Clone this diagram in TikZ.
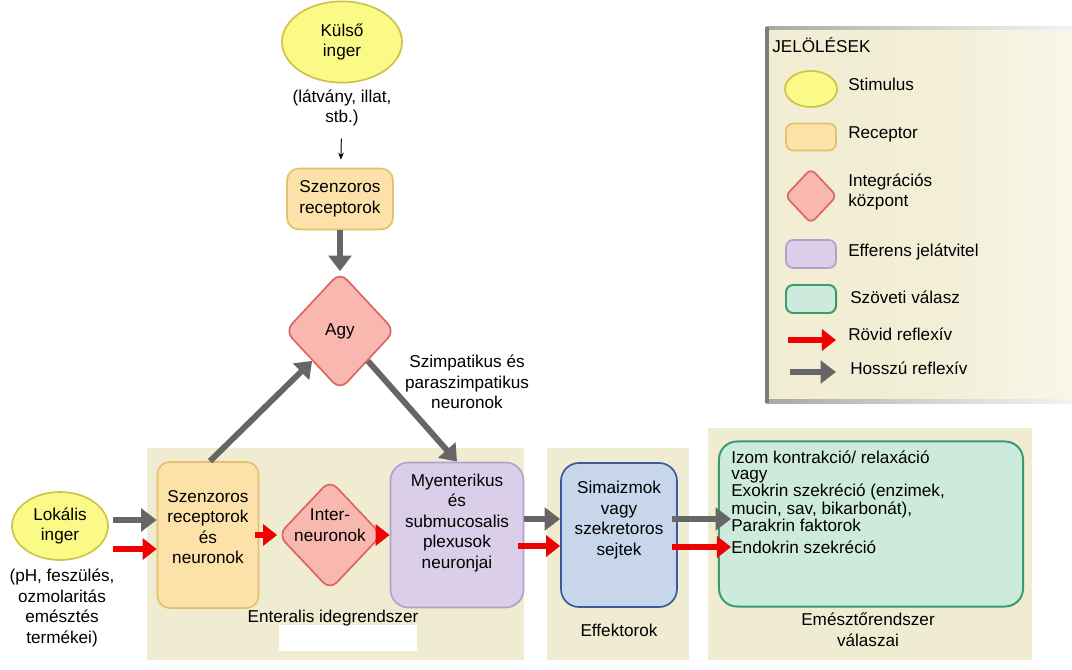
\documentclass[tikz,border=0pt]{standalone}
\usepackage{fontspec}
\setmainfont{Liberation Sans}
\usetikzlibrary{arrows.meta}
\usetikzlibrary{shapes.geometric}

\definecolor{stimfill}{RGB}{252,250,135}
\definecolor{stimdraw}{RGB}{205,195,70}
\definecolor{recfill}{RGB}{252,226,168}
\definecolor{recdraw}{RGB}{228,192,112}
\definecolor{intfill}{RGB}{248,184,176}
\definecolor{intdraw}{RGB}{222,100,100}
\definecolor{efffill}{RGB}{218,206,232}
\definecolor{effdraw}{RGB}{180,160,205}
\definecolor{smfill}{RGB}{200,214,236}
\definecolor{smdraw}{RGB}{60,90,155}
\definecolor{tisfill}{RGB}{204,235,220}
\definecolor{tisdraw}{RGB}{60,155,110}
\definecolor{panel}{RGB}{240,236,210}
\definecolor{legcream}{RGB}{240,235,206}
\definecolor{legline}{RGB}{125,125,125}
\definecolor{longarr}{RGB}{102,102,102}
\definecolor{shortarr}{RGB}{240,0,0}

\pgfdeclarehorizontalshading{legshade}{100bp}{color(0bp)=(legcream); color(55bp)=(legcream!80); color(100bp)=(white)}
\pgfdeclarehorizontalshading{legborder}{100bp}{color(0bp)=(legline); color(50bp)=(legline!35); color(85bp)=(white); color(100bp)=(white)}

\begin{document}
\begin{tikzpicture}[x=0.025cm,y=-0.025cm,font=\fontsize{12.2}{14.6}\selectfont]
  \tikzset{stim/.style = {ellipse,draw=stimdraw,fill=stimfill,line width=1.2pt,inner sep=0pt,align=center}}
  \tikzset{rec/.style = {rectangle,rounded corners=0.3cm,draw=recdraw,fill=recfill,line width=1.2pt,inner sep=0pt,align=center}}
  \tikzset{integ/.style = {diamond,rounded corners=0.25cm,draw=intdraw,fill=intfill,line width=1.2pt,inner sep=0pt}}
  \tikzset{eff/.style = {rectangle,rounded corners=0.45cm,draw=effdraw,fill=efffill,line width=1.2pt,inner sep=0pt}}
  \tikzset{smooth/.style = {rectangle,rounded corners=0.45cm,draw=smdraw,fill=smfill,line width=1.2pt,inner sep=0pt}}
  \tikzset{tissue/.style = {rectangle,rounded corners=0.45cm,draw=tisdraw,fill=tisfill,line width=1.4pt,inner sep=0pt}}
  \tikzset{lbl/.style = {align=center,inner sep=0pt}}
  \tikzset{legtxt/.style = {anchor=west,align=left,inner sep=0pt}}
  \tikzset{long/.style = {-{Triangle[length=11pt,width=16pt]},line width=4.2pt,draw=longarr}}
  \tikzset{short/.style = {-{Triangle[length=10pt,width=15pt]},line width=4.2pt,draw=shortarr}}

  \useasboundingbox (0,0) rectangle (1072,670);

  % panels
  \fill[panel] (147,448) rectangle (524,660);
  \fill[panel] (547,448) rectangle (689,660);
  \fill[panel] (708,428) rectangle (1032,660);
  \fill[white] (279,625) rectangle (417,651);

  % top: external stimulus and brain
  \node[stim,minimum width=3cm,minimum height=2.03cm] (kulso) at (342,42) {Külső\\inger};
  \node[lbl] (kulsotxt) at (342,108) {(látvány, illat,\\stb.)};
  \node[rec,minimum width=2.65cm,minimum height=1.525cm] (szrec) at (340,199) {Szenzoros\\receptorok};
  \node[integ,minimum width=2.75cm,minimum height=2.95cm,label={[lbl]center:Agy}] (agy) at (340,331) {};
  \node[lbl] (szimp) at (467,382) {Szimpatikus és\\paraszimpatikus\\neuronok};

  % enteric row
  \node[stim,minimum width=2.4cm,minimum height=1.7cm] (lok) at (60,526) {Lokális\\inger};
  \node[lbl] (loktxt) at (62,608) {(pH, feszülés,\\ozmolaritás\\emésztés\\termékei)};
  \node[rec,minimum width=2.525cm,minimum height=3.65cm,label={[lbl,yshift=0.2cm]center:Szenzoros\\receptorok\\és\\neuronok}] (rec1) at (208,535) {};
  \node[integ,minimum width=2.6cm,minimum height=2.75cm,label={[lbl,yshift=0.25cm]center:Inter-\\neuronok}] (inter) at (330,535) {};
  \node[eff,minimum width=3.325cm,minimum height=3.625cm,label={[lbl,yshift=0.3cm]center:Myenterikus\\és\\submucosalis\\plexusok\\neuronjai}] (plex) at (457,535) {};
  \node[smooth,minimum width=2.9cm,minimum height=3.6cm,label={[lbl,yshift=0.375cm]center:Simaizmok\\vagy\\szekretoros\\sejtek}] (sima) at (619,535) {};
  \node[tissue,minimum width=7.6cm,minimum height=4.125cm] (resp) at (871,524) {};
  \node[anchor=north west,align=left,inner sep=0pt,font=\fontsize{12.2}{11}\selectfont] (resptxt) at (731,451)
    {Izom kontrakció/ relaxáció\\vagy\\Exokrin szekréció (enzimek,\\mucin, sav, bikarbonát),\\Parakrin faktorok};
  \node[anchor=west,inner sep=0pt] (endo) at (731,547) {Endokrin szekréció};
  \coordinate (parakrin) at (731,519);

  \node[lbl] (enteral) at (333,618) {Enteralis idegrendszer};
  \node[lbl] (effekt) at (619,630) {Effektorok};
  \node[lbl] (emeszt) at (868,630) {Emésztőrendszer\\válaszai};

  % connectors
  \draw[-{Stealth[length=5pt,width=4pt]},line width=0.7pt,shorten <=0.3cm,shorten >=0.2cm] (kulsotxt) -- (szrec);
  \draw[long] (szrec) -- (agy);
  \draw[long] ([xshift=0.05cm]rec1.north) -- (agy.south west);
  \draw[long] (agy.south east) -- (plex.north);
  \draw[long] ([shift={(4,-6)}]lok.east) -- ([shift={(0,-15)}]rec1.west);
  \draw[short] ([shift={(4,23)}]lok.east) -- ([shift={(0,14)}]rec1.west);
  \foreach \from/\to in {rec1/inter, inter/plex}
    \draw[short] ([xshift=-0.1cm]\from.east) -- (\to.west);
  \draw[long] ([shift={(0,-16)}]plex.east) -- ([shift={(0,-16)}]sima.west);
  \draw[short] ([shift={(-6,11)}]plex.east) -- ([shift={(0,11)}]sima.west);
  \draw[long] ([shift={(-6,-16)}]sima.east) -- (parakrin);
  \draw[short] ([xshift=-0.15cm]sima.east |- endo.west) -- (endo.west);

  % legend
  \shade[shading=legshade] (766,28) rectangle (1072,402);
  \shade[shading=legborder] (766,27) rectangle (1072,29.5);
  \shade[shading=legborder] (766,399) rectangle (1072,403);
  \draw[legline,line width=2.4pt] (767,27) -- (767,403);
  \node[legtxt] (jel) at (772,45) {JELÖLÉSEK};
  \node[stim,minimum width=1.3cm,minimum height=0.9cm] (lstim) at (811,89) {};
  \node[legtxt] (lstimtxt) at (848,84) {Stimulus};
  \node[rec,rounded corners=0.18cm,minimum width=1.25cm,minimum height=0.675cm] (lrec) at (811,137) {};
  \node[legtxt] (lrectxt) at (848,134) {Receptor};
  \node[integ,rounded corners=0.15cm,minimum width=1.3cm,minimum height=1.38cm] (lint) at (811,196) {};
  \node[legtxt] (linttxt) at (848,192) {Integrációs\\központ};
  \node[eff,rounded corners=0.18cm,minimum width=1.25cm,minimum height=0.7cm] (leff) at (811,254) {};
  \node[legtxt] (lefftxt) at (848,252) {Efferens jelátvitel};
  \node[tissue,rounded corners=0.18cm,minimum width=1.25cm,minimum height=0.7cm] (ltis) at (811,299) {};
  \node[legtxt] (ltistxt) at (850,297) {Szöveti válasz};
  \coordinate (lrs) at (788,340);
  \coordinate (lre) at (836,340);
  \draw[short] (lrs) -- (lre);
  \node[legtxt] (lshort) at (848,334) {Rövid reflexív};
  \coordinate (lls) at (790,372);
  \coordinate (lle) at (836,372);
  \draw[long] (lls) -- (lle);
  \node[legtxt] (llong) at (850,368) {Hosszú reflexív};
\end{tikzpicture}
\end{document}
